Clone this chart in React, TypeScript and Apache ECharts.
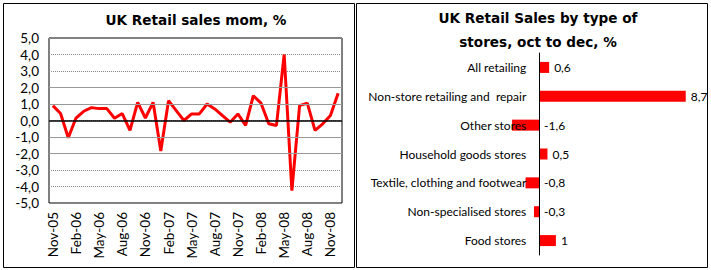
import React, { useEffect, useRef } from 'react';
import * as echarts from 'echarts';

const months = [
  'Nov-05', 'Dec-05', 'Jan-06', 'Feb-06', 'Mar-06', 'Apr-06', 'May-06', 'Jun-06', 'Jul-06', 'Aug-06',
  'Sep-06', 'Oct-06', 'Nov-06', 'Dec-06', 'Jan-07', 'Feb-07', 'Mar-07', 'Apr-07', 'May-07', 'Jun-07',
  'Jul-07', 'Aug-07', 'Sep-07', 'Oct-07', 'Nov-07', 'Dec-07', 'Jan-08', 'Feb-08', 'Mar-08', 'Apr-08',
  'May-08', 'Jun-08', 'Jul-08', 'Aug-08', 'Sep-08', 'Oct-08', 'Nov-08', 'Dec-08',
];

const momValues = [
  0.9, 0.42, -1.05, 0.15, 0.56, 0.78, 0.72, 0.72, 0.14, 0.42,
  -0.6, 1.1, 0.15, 1.1, -1.85, 1.2, 0.6, 0.0, 0.4, 0.4,
  1.0, 0.7, 0.3, -0.1, 0.4, -0.3, 1.5, 1.05, -0.2, -0.3,
  4.0, -4.25, 0.9, 1.05, -0.6, -0.2, 0.3, 1.65,
];

const solidGridValues = [-2, -1, 1, 2];

const storeTypes = [
  'All retailing',
  'Non-store retailing and  repair',
  'Other stores',
  'Household goods stores',
  'Textile, clothing and footwear',
  'Non-specialised stores',
  'Food stores',
];

const storeValues = [0.6, 8.7, -1.6, 0.5, -0.8, -0.3, 1];

const FONT = 'Lato';
const TITLE_FONT = '"DejaVu Sans"';
const comma = (v: number) => String(v).replace('.', ',');

export default function App() {
  const ref = useRef<HTMLDivElement>(null);

  useEffect(() => {
    if (!ref.current) return;
    const chart = echarts.init(ref.current, undefined, { renderer: 'svg' });
    chart.setOption({
      animation: false,
      backgroundColor: '#fff',
      textStyle: { fontFamily: FONT },
      title: [
        {
          text: 'UK Retail sales mom, %',
          left: 191,
          textAlign: 'center',
          top: 7,
          textStyle: { fontFamily: TITLE_FONT, fontSize: 13.6, fontWeight: 'bold', color: '#000', lineHeight: 16 },
        },
        {
          text: 'UK Retail Sales by type of\nstores, oct to dec, %',
          left: 533,
          textAlign: 'center',
          top: 1,
          textStyle: { fontFamily: TITLE_FONT, fontSize: 13.6, fontWeight: 'bold', color: '#000', lineHeight: 24 },
        },
      ],
      graphic: [
        { type: 'rect', shape: { x: 3.5, y: 3.5, width: 351, height: 264 }, style: { fill: 'none', stroke: '#000', lineWidth: 1 } },
        { type: 'rect', shape: { x: 356.5, y: 3.5, width: 351, height: 264 }, style: { fill: 'none', stroke: '#000', lineWidth: 1 } },
      ],
      grid: [
        { left: 49, top: 38, width: 293, height: 165, show: true, borderColor: '#000', borderWidth: 1, backgroundColor: 'transparent' },
        { left: 505.3, top: 53, width: 185.5, height: 202 },
      ],
      xAxis: [
        {
          gridIndex: 0,
          type: 'category',
          data: months,
          boundaryGap: true,
          axisLine: { show: false },
          axisTick: { show: false },
          axisLabel: { interval: 2, rotate: 90, margin: 9, fontSize: 13.5, color: '#000', fontFamily: FONT },
          splitLine: { show: false },
        },
        {
          gridIndex: 1,
          type: 'value',
          min: -2,
          max: 9,
          show: false,
        },
      ],
      yAxis: [
        {
          gridIndex: 0,
          type: 'value',
          min: -5,
          max: 5,
          interval: 1,
          axisLine: { show: false },
          axisTick: { show: false },
          axisLabel: { fontSize: 13.5, color: '#000', margin: 10, fontFamily: FONT, formatter: (v: number) => v.toFixed(1).replace('.', ',') },
          splitLine: { show: true, lineStyle: { color: '#888', type: [1, 1], width: 1 } },
        },
        {
          gridIndex: 1,
          type: 'category',
          data: storeTypes,
          inverse: true,
          z: 5,
          axisLine: { show: true, onZero: true, lineStyle: { color: '#000', width: 1 } },
          axisTick: { show: false },
          axisLabel: { fontSize: 12, color: '#000', margin: -21, fontFamily: FONT },
          splitLine: { show: false },
        },
      ],
      series: [
        {
          type: 'line',
          xAxisIndex: 0,
          yAxisIndex: 0,
          data: [],
          z: 1,
          silent: true,
          markLine: {
            silent: true,
            symbol: 'none',
            label: { show: false },
            data: [
              ...solidGridValues.map((v) => ({ yAxis: v, lineStyle: { color: '#999', type: 'solid', width: 1 } })),
              { yAxis: 0, lineStyle: { color: '#000', type: 'solid', width: 1.5 } },
            ],
          },
        },
        {
          type: 'line',
          xAxisIndex: 0,
          yAxisIndex: 0,
          data: momValues,
          z: 3,
          symbol: 'none',
          lineStyle: { color: '#ff0000', width: 3 },
          itemStyle: { color: '#ff0000' },
        },
        {
          type: 'bar',
          xAxisIndex: 1,
          yAxisIndex: 1,
          data: storeValues,
          barWidth: 11,
          z: 1,
          itemStyle: { color: '#ff0000' },
          label: {
            show: true,
            position: 'right',
            distance: 5,
            fontSize: 12,
            color: '#000',
            fontFamily: FONT,
            formatter: (p: any) => comma(p.value),
          },
        },
      ],
    });
    return () => chart.dispose();
  }, []);

  return (
    <div
      ref={ref}
      style={{ position: 'fixed', left: 0, top: 0, width: 711, height: 270 }}
    />
  );
}
